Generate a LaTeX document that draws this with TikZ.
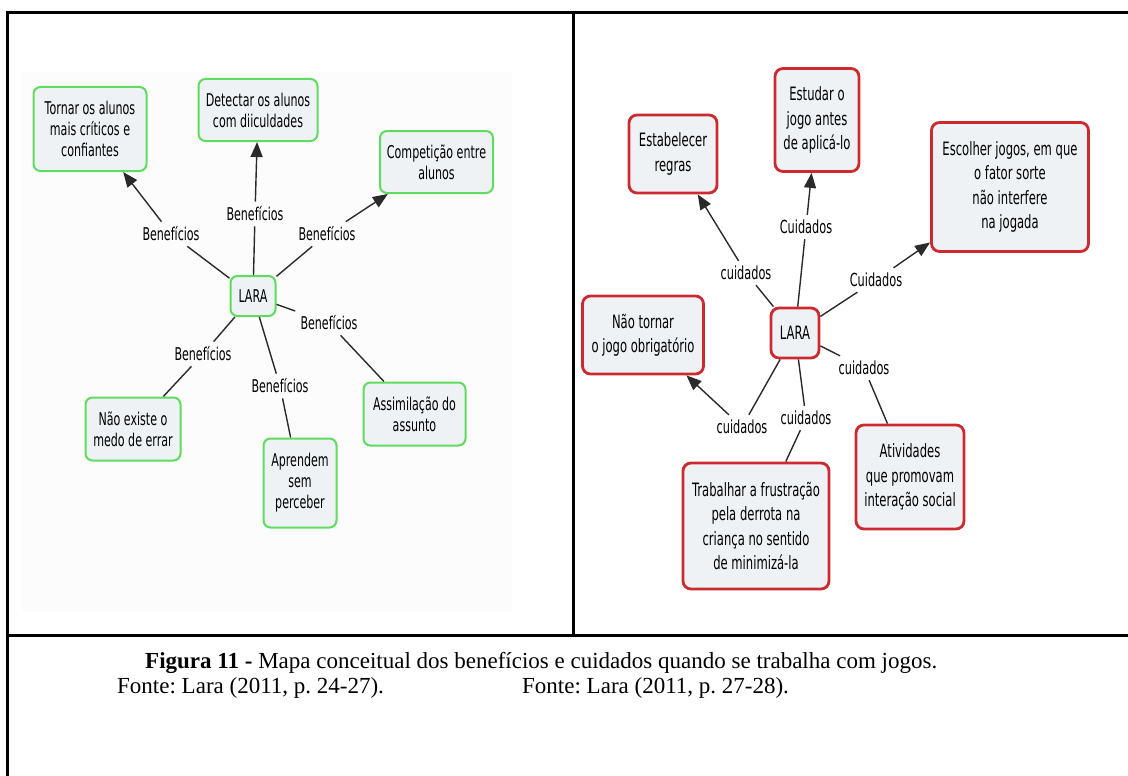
\documentclass[tikz,border=0pt]{standalone}
\usepackage{fontspec}
\setmainfont{Liberation Serif}
\newfontfamily\mapfont[FakeStretch=0.63]{DejaVu Sans}
\usetikzlibrary{arrows.meta}
\definecolor{boxfill}{HTML}{EEF2F5}
\definecolor{mapgreen}{HTML}{5FDC5F}
\definecolor{mapred}{HTML}{CC2A30}
\definecolor{linkgray}{HTML}{2A2A2A}
\frenchspacing

\begin{document}
\begin{tikzpicture}[
    x=1pt, y=-1pt,
    frame/.style={line width=3pt},
    benbox/.style={draw=mapgreen, line width=2pt, fill=boxfill, rounded corners=7pt, align=center, font=\mapfont\fontsize{17.6}{21}\selectfont},
    cuibox/.style={draw=mapred, line width=2.8pt, fill=boxfill, rounded corners=8pt, align=center, font=\mapfont\fontsize{18.4}{24.4}\selectfont},
    benlbl/.style={font=\mapfont\fontsize{17.6}{21}\selectfont, inner sep=5pt},
    cuilbl/.style={font=\mapfont\fontsize{18}{22}\selectfont, inner sep=5pt},
    link/.style={draw=linkgray, line width=1.4pt},
    tip/.style={link, -{Triangle[length=15pt,width=12pt]}},
    legend/.style={anchor=base west, inner sep=0pt, font=\fontsize{23}{27}\selectfont}
    ]

    \useasboundingbox (0,0) rectangle (1128,776);
    \fill[black!1] (22,72) rectangle (512,612);

    \draw[frame] (1130,13) -- (7,13) -- (7,778);
    \draw[frame] (573,13) -- (573,635);
    \draw[frame] (7,635) -- (1130,635);

    \node[benbox, minimum width=113, minimum height=84] (tornar) at (90,129) {Tornar os alunos\\mais críticos e\\confiantes};
    \node[benbox, minimum width=119, minimum height=62] (detectar) at (258,110) {Detectar os alunos\\com diiculdades};
    \node[benbox, minimum width=113, minimum height=62] (compet) at (436.5,162) {Competição entre\\alunos};
    \node[benbox, minimum width=45, minimum height=40] (laraA) at (253,296) {LARA};
    \node[benbox, minimum width=95, minimum height=63] (naoexiste) at (133,429) {Não existe o\\medo de errar};
    \node[benbox, minimum width=73, minimum height=89] (aprendem) at (300,483) {Aprendem\\sem\\perceber};
    \node[benbox, minimum width=102, minimum height=63] (assim) at (414.5,414) {Assimilação do\\assunto};

    \node[benlbl] (benA) at (171,234) {Benefícios};
    \node[benlbl] (benB) at (255,214) {Benefícios};
    \node[benlbl] (benC) at (327,234) {Benefícios};
    \node[benlbl] (benD) at (329,323) {Benefícios};
    \node[benlbl] (benE) at (203,354) {Benefícios};
    \node[benlbl] (benF) at (280,386) {Benefícios};

    \draw[link] (laraA) -- (benA);
    \draw[link] (laraA) -- (benB);
    \draw[link] (laraA) -- (benC);
    \draw[link] (laraA) -- (benD);
    \draw[link] (laraA) -- (benE);
    \draw[link] (laraA) -- (benF);
    \draw[tip] (benA) -- (tornar);
    \draw[tip] (benB) -- (detectar);
    \draw[tip] (benC) -- (compet);
    \draw[link] (benD) -- (assim);
    \draw[link] (benE) -- (naoexiste);
    \draw[link] (benF) -- (aprendem);

    \node[cuibox, minimum width=88, minimum height=78] (regras) at (673,154) {Estabelecer\\regras};
    \node[cuibox, minimum width=84, minimum height=103] (estudar) at (817,120) {Estudar o\\jogo antes\\de aplicá-lo};
    \node[cuibox, minimum width=157, minimum height=129] (escolher) at (1010,187) {Escolher jogos, em que\\o fator sorte\\não interfere\\na jogada};
    \node[cuibox, minimum width=48, minimum height=50] (laraB) at (795,333) {LARA};
    \node[cuibox, minimum width=121, minimum height=78] (naotornar) at (643,335) {Não tornar\\o jogo obrigatório};
    \node[cuibox, minimum width=146, minimum height=126] (trabalhar) at (756,526) {Trabalhar a frustração\\pela derrota na\\criança no sentido\\de minimizá-la};
    \node[cuibox, minimum width=108, minimum height=104] (atividades) at (910,477) {Atividades\\que promovam\\interação social};

    \node[cuilbl] (cuiA) at (746,273) {cuidados};
    \node[cuilbl] (cuiB) at (806,227) {Cuidados};
    \node[cuilbl] (cuiC) at (876,280) {Cuidados};
    \node[cuilbl] (cuiD) at (864,368) {cuidados};
    \node[cuilbl] (cuiE) at (806,418) {cuidados};
    \node[cuilbl] (cuiF) at (742,427) {cuidados};

    \draw[link] (laraB) -- (cuiA);
    \draw[link] (laraB) -- (cuiB);
    \draw[link] (laraB) -- (cuiC);
    \draw[link] (laraB) -- (cuiD);
    \draw[link] (laraB) -- (cuiE);
    \draw[link] (laraB) -- (cuiF);
    \draw[tip] (cuiA) -- (regras);
    \draw[tip] (cuiB) -- (estudar);
    \draw[tip] (cuiC) -- (escolher);
    \draw[link] (cuiD) -- (atividades);
    \draw[link] (cuiE) -- (trabalhar);
    \draw[tip] (cuiF) -- (naotornar);

    \node[legend] (figura) at (145,668) {\textbf{Figura 11 -} Mapa conceitual dos benefícios e cuidados quando se trabalha com jogos.};
    \node[legend] (fonteA) at (117,693) {Fonte: Lara (2011, p. 24-27).};
    \node[legend] (fonteB) at (522,693) {Fonte: Lara (2011, p. 27-28).};

\end{tikzpicture}
\end{document}
